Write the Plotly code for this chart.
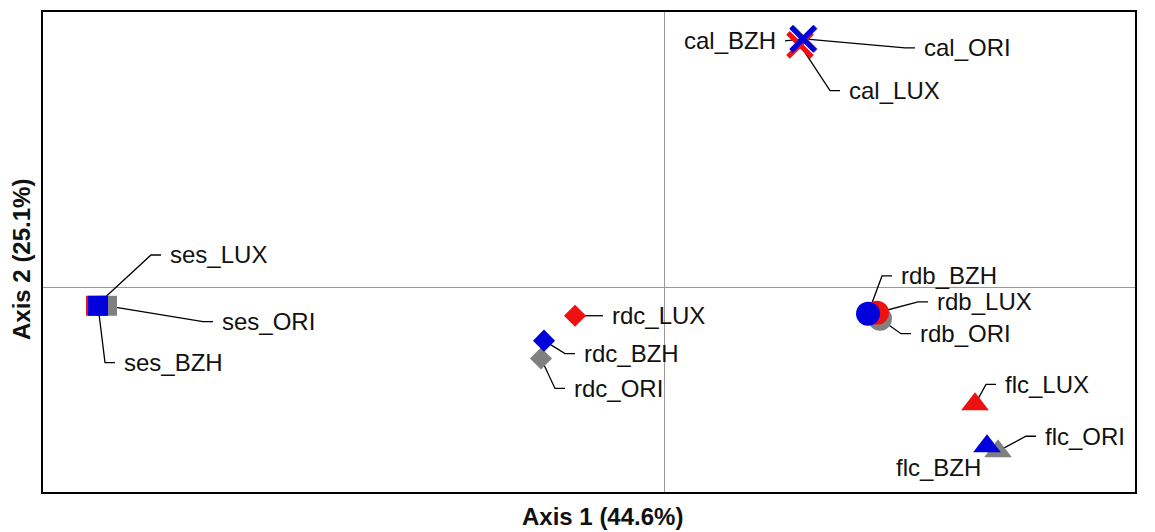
import plotly.graph_objects as go

# ---- data (PCoA scores) ----
sites = ["ses", "rdc", "rdb", "flc", "cal"]
treatments = ["ORI", "LUX", "BZH"]   # draw order: gray, red, blue

axis1_ORI = [-0.557, -0.123, 0.216, 0.334, 0.140]
axis2_ORI = [-0.018, -0.071, -0.031, -0.164, 0.250]
axis1_LUX = [-0.568, -0.089, 0.213, 0.311, 0.136]
axis2_LUX = [-0.018, -0.028, -0.025, -0.117, 0.244]
axis1_BZH = [-0.566, -0.120, 0.204, 0.323, 0.139]
axis2_BZH = [-0.018, -0.053, -0.026, -0.159, 0.250]

axis1_title = "Axis 1 (44.6%)"
axis2_title = "Axis 2 (25.1%)"

# ---- styles / layout ----
colors = {"ORI": "#808080", "LUX": "#EE1111", "BZH": "#0000DD"}
symbols = {"ses": "square", "rdc": "diamond", "rdb": "circle",
           "flc": "triangle-up", "cal": "x-thin"}
sizes = {"ses": 20, "rdc": 17, "rdb": 24, "flc": 24, "cal": 24}

# label anchor positions (axis units) and side
label_pos = {
    "ses_ORI": (-0.444, -0.034, "r"), "ses_LUX": (-0.496, 0.033, "r"), "ses_BZH": (-0.542, -0.075, "r"),
    "rdc_ORI": (-0.092, -0.101, "r"), "rdc_LUX": (-0.054, -0.028, "r"), "rdc_BZH": (-0.082, -0.066, "r"),
    "rdb_ORI": (0.254, -0.046, "r"), "rdb_LUX": (0.271, -0.014, "r"), "rdb_BZH": (0.235, 0.012, "r"),
    "flc_ORI": (0.379, -0.149, "r"), "flc_LUX": (0.339, -0.097, "r"), "flc_BZH": (0.319, -0.180, "n"),
    "cal_ORI": (0.258, 0.241, "r"), "cal_LUX": (0.183, 0.198, "r"), "cal_BZH": (0.114, 0.248, "l"),
}

xs = {"ORI": axis1_ORI, "LUX": axis1_LUX, "BZH": axis1_BZH}
ys = {"ORI": axis2_ORI, "LUX": axis2_LUX, "BZH": axis2_BZH}

FONT = "Liberation Sans, Arial"

fig = go.Figure()

# leader lines
for t in treatments:
    for i, s in enumerate(sites):
        name = f"{s}_{t}"
        lx, ly, side = label_pos[name]
        px, py = xs[t][i], ys[t][i]
        if side == "r":
            lx_end = lx - 0.007
            lx_elb = lx - 0.017
            fig.add_trace(go.Scatter(x=[px, lx_elb, lx_end], y=[py, ly, ly], mode="lines",
                                     line=dict(color="black", width=1.3), hoverinfo="skip",
                                     showlegend=False))
        elif side == "l":
            fig.add_trace(go.Scatter(x=[px, lx + 0.007], y=[py, ly], mode="lines",
                                     line=dict(color="black", width=1.3), hoverinfo="skip",
                                     showlegend=False))

# markers
for t in treatments:
    for i, s in enumerate(sites):
        sym = symbols[s]
        if sym == "x-thin":
            marker = dict(symbol=sym, size=sizes[s], color=colors[t],
                          line=dict(color=colors[t], width=5))
        else:
            marker = dict(symbol=sym, size=sizes[s], color=colors[t], line=dict(width=0))
        fig.add_trace(go.Scatter(x=[xs[t][i]], y=[ys[t][i]], mode="markers",
                                 marker=marker, name=f"{s}_{t}", showlegend=False))

# labels
for name, (lx, ly, side) in label_pos.items():
    fig.add_annotation(x=lx, y=ly, text=name, showarrow=False,
                       xanchor="right" if side in ("l", "n") else "left", yanchor="middle",
                       font=dict(family=FONT, size=24, color="#111"))

fig.add_annotation(x=-0.062, y=-0.052, xref="x", yref="paper", text=f"<b>{axis1_title}</b>",
                   showarrow=False, xanchor="center", yanchor="middle",
                   font=dict(family=FONT, size=24, color="#111"))
fig.add_annotation(x=-0.0192, y=0.028, xref="paper", yref="y", text=f"<b>{axis2_title}</b>",
                   showarrow=False, xanchor="center", yanchor="middle", textangle=-90,
                   font=dict(family=FONT, size=24, color="#111"))

fig.update_layout(
    width=1147, height=524,
    margin=dict(l=35, r=20, t=2, b=40),
    paper_bgcolor="white", plot_bgcolor="white",
    xaxis=dict(range=[-0.621, 0.471], showgrid=False, zeroline=True, zerolinecolor="#999",
               zerolinewidth=1, showticklabels=False, ticks="", showline=True, mirror=True,
               linecolor="black", linewidth=2),
    yaxis=dict(range=[-0.205, 0.277], showgrid=False, zeroline=True, zerolinecolor="#999",
               zerolinewidth=1, showticklabels=False, ticks="", showline=True, mirror=True,
               linecolor="black", linewidth=2),
)

fig.write_html("out.html")
